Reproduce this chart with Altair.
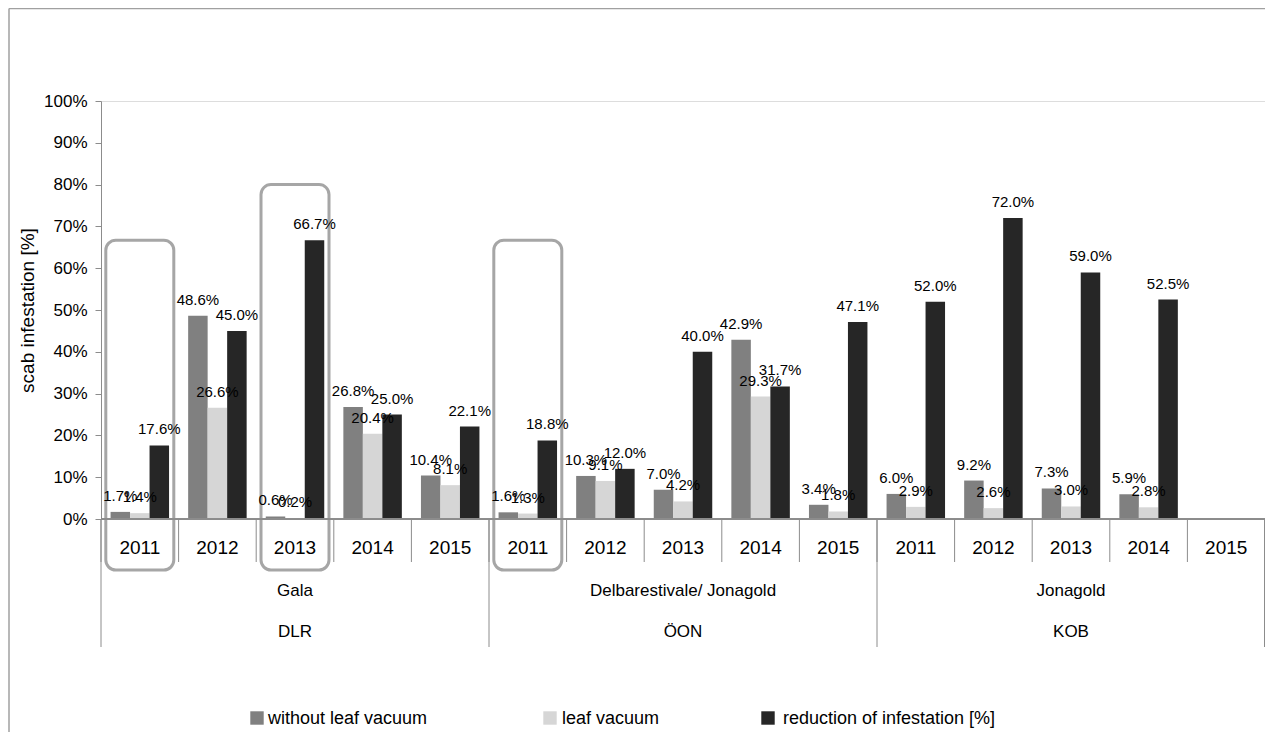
import altair as alt
import pandas as pd

# ---------------- data ----------------
institutions = ["DLR", "ÖON", "KOB"]
varieties = ["Gala", "Delbarestivale/ Jonagold", "Jonagold"]
years = ["2011", "2012", "2013", "2014", "2015"]
series = ["without leaf vacuum", "leaf vacuum", "reduction of infestation [%]"]

without_vacuum = [1.7, 48.6, 0.6, 26.8, 10.4, 1.6, 10.3, 7.0, 42.9, 3.4, 6.0, 9.2, 7.3, 5.9, None]
leaf_vacuum = [1.4, 26.6, 0.2, 20.4, 8.1, 1.3, 9.1, 4.2, 29.3, 1.8, 2.9, 2.6, 3.0, 2.8, None]
reduction = [17.6, 45.0, 66.7, 25.0, 22.1, 18.8, 12.0, 40.0, 31.7, 47.1, 52.0, 72.0, 59.0, 52.5, None]

highlight_keys = ["DLR 2011", "DLR 2013", "ÖON 2011"]
highlight_top = [66.7, 80.0, 66.7]

y_ticks = [0, 10, 20, 30, 40, 50, 60, 70, 80, 90, 100]

colors = ["#808080", "#d6d6d6", "#262626"]

# ---------------- layout ----------------
FONT = "Liberation Sans"
W, H = 1164, 418
GRID = "#8c8c8c"

keys = [f"{i} {y}" for i in institutions for y in years]
cats = pd.DataFrame({
    "key": keys,
    "year": [y for i in institutions for y in years],
})

rows = []
for s, vals in zip(series, [without_vacuum, leaf_vacuum, reduction]):
    for k, v in zip(keys, vals):
        if v is None:
            continue
        rows.append({"key": k, "series": s, "value": v / 100.0, "label": f"{v:.1f}%"})
bars_df = pd.DataFrame(rows)

groups_df = pd.DataFrame({
    "center": [f"{i} 2013" for i in institutions],
    "start": [f"{i} 2011" for i in institutions],
    "variety": varieties,
    "inst": institutions,
})

hl_df = pd.DataFrame({"key": highlight_keys, "top": [t / 100.0 for t in highlight_top]})

legend_df = pd.DataFrame({
    "series": series,
    "sx": [156, 449, 667],
    "tx": [167, 461, 682],
})

xscale = alt.Scale(domain=keys, paddingInner=0, paddingOuter=0)
X = alt.X("key:N", scale=xscale, axis=None)
yscale = alt.Scale(domain=[0, 1])
color = alt.Color("series:N", scale=alt.Scale(domain=series, range=colors), legend=None)
xoff = alt.XOffset("series:N", scale=alt.Scale(domain=series, paddingInner=0, paddingOuter=0.49))

bars = alt.Chart(bars_df).mark_bar().encode(
    x=X,
    xOffset=xoff,
    y=alt.Y(
        "value:Q",
        scale=yscale,
        stack=None,
        axis=alt.Axis(
            values=[t / 100 for t in y_ticks],
            format=".0%",
            grid=False,
            tickSize=6,
            labelPadding=8,
            domainColor=GRID,
            tickColor=GRID,
            labelFont=FONT,
            labelFontSize=17,
            labelColor="#000000",
            title="scab infestation [%]",
            titleFont=FONT,
            titleFontSize=19,
            titleFontWeight="normal",
            titleColor="#000000",
            titlePadding=6,
        ),
    ),
    color=color,
)

labels = alt.Chart(bars_df).mark_text(
    font=FONT, fontSize=15, dy=-11, baseline="alphabetic", color="#000000"
).encode(
    x=X,
    xOffset=xoff,
    y=alt.Y("value:Q", scale=yscale, stack=None),
    text="label:N",
)

highlights = alt.Chart(hl_df).mark_bar(
    filled=False, stroke="#a6a6a6", strokeWidth=3, cornerRadius=10, width=68
).encode(
    x=X,
    y=alt.Y("top:Q", scale=yscale, stack=None),
    y2=alt.value(469),
)

baseline = alt.Chart(cats).mark_rule(color=GRID).encode(
    x=alt.value(0), x2=alt.value(W), y=alt.value(H)
)

year_rules = alt.Chart(cats).mark_rule(color=GRID).encode(
    x=alt.X("key:N", scale=xscale, axis=None, bandPosition=0),
    y=alt.value(H),
    y2=alt.value(H + 43),
)

group_rules = alt.Chart(groups_df).mark_rule(color=GRID).encode(
    x=alt.X("start:N", scale=xscale, axis=None, bandPosition=0),
    y=alt.value(H),
    y2=alt.value(546),
)

end_rule = alt.Chart(groups_df.tail(1)).mark_rule(color=GRID).encode(
    x=alt.value(W - 0.5),
    y=alt.value(H),
    y2=alt.value(546),
)

year_text = alt.Chart(cats).mark_text(
    font=FONT, fontSize=19, baseline="middle", color="#000000"
).encode(
    x=alt.X("key:N", scale=xscale, axis=None),
    y=alt.value(447),
    text="year:N",
)

variety_text = alt.Chart(groups_df).mark_text(
    font=FONT, fontSize=17, baseline="middle", color="#000000"
).encode(
    x=alt.X("center:N", scale=xscale, axis=None),
    y=alt.value(490),
    text="variety:N",
)

inst_text = alt.Chart(groups_df).mark_text(
    font=FONT, fontSize=17, baseline="middle", color="#000000"
).encode(
    x=alt.X("center:N", scale=xscale, axis=None),
    y=alt.value(531),
    text="inst:N",
)

legend_sym = alt.Chart(legend_df).mark_square(size=180, opacity=1).encode(
    x=alt.X("sx:Q", scale=None),
    y=alt.value(617),
    color=color,
)

legend_txt = alt.Chart(legend_df).mark_text(
    font=FONT, fontSize=18, align="left", baseline="middle", color="#000000"
).encode(
    x=alt.X("tx:Q", scale=None),
    y=alt.value(618),
    text="series:N",
)

border_left = alt.Chart(cats.head(1)).mark_rule(color="#a0a0a0", strokeWidth=1.5).encode(
    x=alt.value(-92), y=alt.value(-92.5), y2=alt.value(640)
)
border_top = alt.Chart(cats.head(1)).mark_rule(color="#a0a0a0", strokeWidth=1.5).encode(
    x=alt.value(-92), x2=alt.value(W + 10), y=alt.value(-92.5)
)

chart = alt.layer(
    border_left, border_top,
    bars, highlights, baseline, year_rules, group_rules, end_rule,
    labels, year_text, variety_text, inst_text, legend_sym, legend_txt,
).properties(
    width=W,
    height=H,
    autosize=alt.AutoSizeParams(type="none"),
    padding={"left": 93, "top": 93, "right": 0, "bottom": 213},
).configure_view(stroke=None).configure(background="#ffffff")

chart.save("out.html", embed_options={"renderer": "svg", "actions": False})
